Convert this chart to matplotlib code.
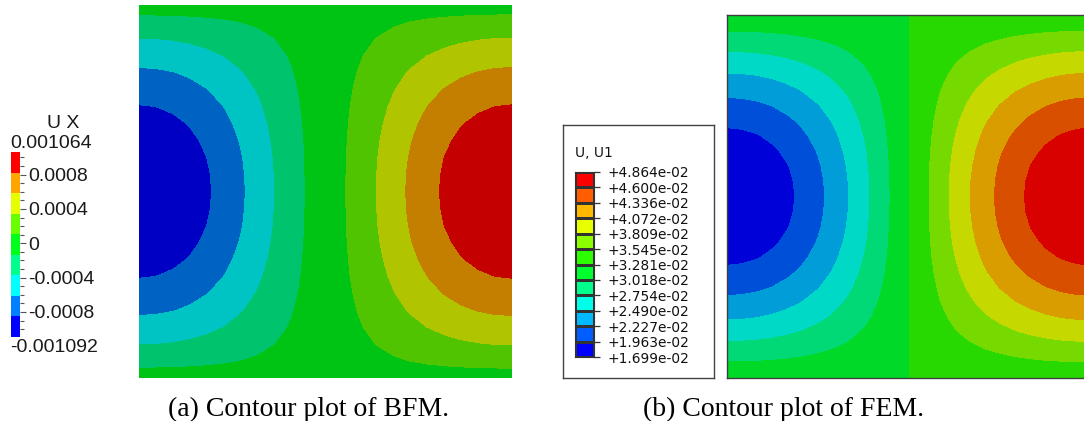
import numpy as np
import matplotlib
matplotlib.use("Agg")
import matplotlib.pyplot as plt
from matplotlib.colors import ListedColormap, to_rgb

# --- data ---
# (a) BFM: ParaView legend, U X
bfm_min, bfm_max = -0.001092, 0.001064
bfm_ticks = [0.0008, 0.0004, 0.0, -0.0004, -0.0008]
bfm_tick_labels = ["0.0008", "0.0004", "0", "-0.0004", "-0.0008"]
bfm_bands = 9

# (b) FEM: Abaqus legend, U, U1 (low -> high)
fem_levels = [1.699e-02, 1.963e-02, 2.227e-02, 2.490e-02, 2.754e-02, 3.018e-02,
              3.281e-02, 3.545e-02, 3.809e-02, 4.072e-02, 4.336e-02, 4.600e-02,
              4.864e-02]

# --- styles ---
bfm_colors = ["#0000FF", "#0080FF", "#00FFFF", "#00FF8E", "#00FF1A",
              "#68FF00", "#E6FF00", "#FFA500", "#FF0000"]
fem_colors = ["#0000FF", "#005DFF", "#00B9FF", "#00FFE8", "#00FF8B", "#00FF2E",
              "#2EFF00", "#8BFF00", "#E8FF00", "#FFB900", "#FF5D00", "#FF0000"]
W, H = 1084, 421


def box(l, t, r, b):
    return [l / W, 1 - b / H, (r - l) / W, (b - t) / H]


def shade(colors, k):
    return [tuple(c * k for c in to_rgb(col)) for col in colors]


fig = plt.figure(figsize=(W / 100, H / 100), dpi=100)

# ---------------- (a) BFM field ----------------
ax_a = fig.add_axes(box(139, 5, 512, 378))
xa = np.linspace(0, 1, 23)
ya = np.linspace(0, 1, 23)
XA, YA = np.meshgrid(xa, ya)
c = np.cos(np.pi * XA)
fx = -np.sign(c) * np.abs(c) ** 1.25
gy = np.sin(np.pi * YA) ** 0.85
mid_a = (bfm_max + bfm_min) / 2
amp_a = (bfm_max - bfm_min) / 2
UA = np.clip(mid_a + amp_a * fx * gy, bfm_min, bfm_max)
lv_a = np.linspace(bfm_min, bfm_max, bfm_bands + 1)
ax_a.contourf(XA, YA, UA, levels=lv_a, colors=shade(bfm_colors, 0.77),
              antialiased=False)
ax_a.set_xlim(0, 1)
ax_a.set_ylim(0, 1)
ax_a.axis("off")

# ParaView style scalar bar
cax_a = fig.add_axes(box(11, 152, 20, 337))
cax_a.pcolormesh([0, 1], lv_a, np.arange(bfm_bands)[:, None],
                 cmap=ListedColormap(bfm_colors), vmin=-0.5, vmax=bfm_bands - 0.5)
cax_a.set_xlim(0, 1)
cax_a.set_ylim(bfm_min, bfm_max)
for s in cax_a.spines.values():
    s.set_visible(False)
cax_a.set_xticks([])
cax_a.yaxis.tick_right()
cax_a.set_yticks(bfm_ticks)
cax_a.set_yticklabels(bfm_tick_labels)
cax_a.set_yticks(np.arange(-10, 11) * 1e-4, minor=True)
cax_a.tick_params(axis="y", which="major", length=4, width=0.8, color="#555555",
                  labelsize=14, labelcolor="#1a1a1a", pad=2)
cax_a.tick_params(axis="y", which="minor", length=3, width=0.8, color="#555555")
for lab in cax_a.get_yticklabels():
    lab.set_family("Liberation Sans")

pv_font = dict(family="Liberation Sans", size=14, color="#1a1a1a")
fig.text(63 / W, 1 - 123 / H, "U X", ha="center", va="center", **pv_font)
fig.text(10 / W, 1 - 144 / H, "0.001064", ha="left", va="center", **pv_font)
fig.text(10 / W, 1 - 348 / H, "-0.001092", ha="left", va="center", **pv_font)

# ---------------- (b) FEM field ----------------
ax_b = fig.add_axes(box(727, 15, 1092, 378))
xb = np.linspace(0, 1, 25)
yb = np.linspace(0, 1, 25)
XB, YB = np.meshgrid(xb, yb)
mid_b = fem_levels[6]
amp_b = (fem_levels[-1] - fem_levels[0]) / 2
UB = mid_b - amp_b * np.cos(np.pi * XB) * np.cos(0.98 * np.pi * (YB - 0.5))
UB = np.clip(UB, fem_levels[0], fem_levels[-1])
ax_b.contourf(XB, YB, UB, levels=fem_levels, colors=shade(fem_colors, 0.85),
              antialiased=False)
ax_b.set_xlim(0, 1)
ax_b.set_ylim(0, 1)
ax_b.set_xticks([])
ax_b.set_yticks([])
for s in ax_b.spines.values():
    s.set_color("#404040")
    s.set_linewidth(1.0)

# Abaqus style legend
leg_b = fig.add_axes(box(563, 125, 714, 378))
leg_b.set_xticks([])
leg_b.set_yticks([])
for s in leg_b.spines.values():
    s.set_color("#444444")
    s.set_linewidth(1.0)

cax_b = fig.add_axes(box(575, 172, 594, 357))
cax_b.pcolormesh([0, 1], fem_levels, np.arange(len(fem_colors))[:, None],
                 cmap=ListedColormap(fem_colors), vmin=-0.5,
                 vmax=len(fem_colors) - 0.5, edgecolors="#333333", linewidth=0.8)
cax_b.set_xlim(0, 1)
cax_b.set_ylim(fem_levels[0], fem_levels[-1])
for s in cax_b.spines.values():
    s.set_color("#333333")
    s.set_linewidth(0.8)
cax_b.set_xticks([])
cax_b.yaxis.tick_right()
cax_b.set_yticks(fem_levels)
cax_b.set_yticklabels([f"{v:+.3e}" for v in fem_levels])
cax_b.tick_params(axis="y", length=4.5, width=0.9, color="#333333",
                  labelsize=9.9, labelcolor="#111111", pad=5.5)
fig.text(575 / W, 1 - 153 / H, "U, U1", ha="left", va="center",
         fontsize=9.9, color="#111111")

# captions
cap_font = dict(family="Liberation Serif", size=20, color="black")
fig.text(309 / W, 1 - 416 / H, "(a) Contour plot of BFM.", ha="center",
         va="baseline", **cap_font)
fig.text(784 / W, 1 - 416 / H, "(b) Contour plot of FEM.", ha="center",
         va="baseline", **cap_font)

fig.savefig("out.png", dpi=100)
